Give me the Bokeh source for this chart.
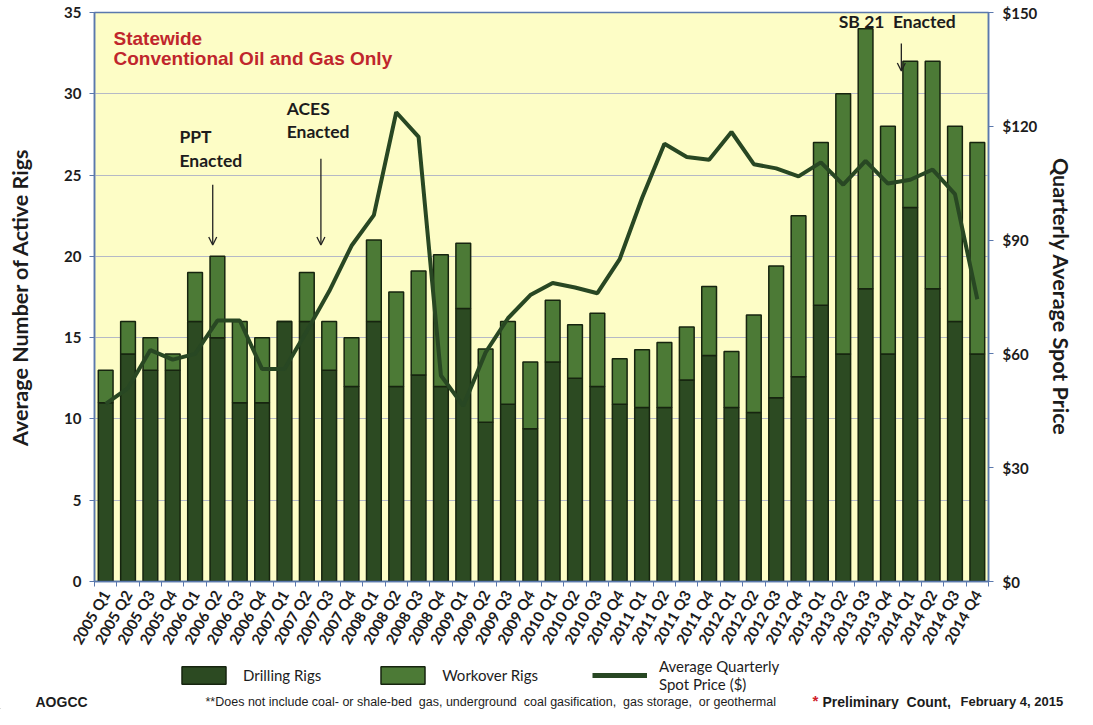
import math
from bokeh.plotting import figure
from bokeh.layouts import column
from bokeh.models import (ColumnDataSource, Range1d, LinearAxis, FixedTicker,
                          NumeralTickFormatter, Label, Arrow, OpenHead,
                          Legend, LegendItem)
from bokeh.embed import file_html
from bokeh.resources import INLINE

# ---------------- data ----------------
quarters = ["2005 Q1", "2005 Q2", "2005 Q3", "2005 Q4",
            "2006 Q1", "2006 Q2", "2006 Q3", "2006 Q4",
            "2007 Q1", "2007 Q2", "2007 Q3", "2007 Q4",
            "2008 Q1", "2008 Q2", "2008 Q3", "2008 Q4",
            "2009 Q1", "2009 Q2", "2009 Q3", "2009 Q4",
            "2010 Q1", "2010 Q2", "2010 Q3", "2010 Q4",
            "2011 Q1", "2011 Q2", "2011 Q3", "2011 Q4",
            "2012 Q1", "2012 Q2", "2012 Q3", "2012 Q4",
            "2013 Q1", "2013 Q2", "2013 Q3", "2013 Q4",
            "2014 Q1", "2014 Q2", "2014 Q3", "2014 Q4"]

drilling_rigs = [11, 14, 13, 13, 16, 15, 11, 11, 16, 16, 13, 12,
                 16, 12, 12.7, 12, 16.8, 9.8, 10.9, 9.4, 13.5, 12.5, 12, 10.9,
                 10.7, 10.7, 12.4, 13.9, 10.7, 10.4, 11.3, 12.6,
                 17, 14, 18, 14, 23, 18, 16, 14]

total_rigs = [13, 16, 15, 14, 19, 20, 16, 15, 16, 19, 16, 15,
              21, 17.8, 19.1, 20.1, 20.8, 14.3, 16, 13.5, 17.3, 15.8, 16.5, 13.7,
              14.25, 14.7, 15.65, 18.15, 14.15, 16.4, 19.4, 22.5,
              27, 30, 34, 28, 32, 32, 28, 27]

workover_rigs = [round(t - d, 2) for t, d in zip(total_rigs, drilling_rigs)]

spot_price = [46.8, 51, 61, 58.5, 60, 68.8, 68.8, 56,
              56, 66, 76.5, 88.5, 96.6, 123.7, 117.2, 54.3,
              46.3, 60.4, 69.4, 75.5, 78.7, 77.5, 76, 85,
              101.1, 115.4, 111.9, 111.2, 118.5, 110, 108.9, 106.8,
              110.5, 104.6, 110.9, 104.9, 105.9, 108.6, 102.1, 74.4]

rig_ticks = [0, 5, 10, 15, 20, 25, 30, 35]
price_ticks = [0, 30, 60, 90, 120, 150]

# ---------------- styles ----------------
DARK = "#2c4a22"
WORK = "#4c7a36"
LINE = "#284723"
OUT = "#16240f"
BG = "#fdfdc6"
AX = "#5a78ad"
TXT = "#1c1c1c"
FONT = "Lato"
NB = "\u00a0"

idx = list(range(len(quarters)))
src = ColumnDataSource(dict(x=idx, q=quarters, drilling=drilling_rigs,
                            workover=workover_rigs, price=spot_price))

p = figure(width=1077, height=654, output_backend="svg", toolbar_location=None,
           x_range=Range1d(-0.5, len(quarters) - 0.5), y_range=Range1d(0, 35),
           min_border_left=94, min_border_right=82, min_border_top=12,
           min_border_bottom=72, background_fill_color=BG,
           border_fill_color="white", outline_line_color=AX,
           outline_line_width=1.5)
p.frame_align = False
p.extra_y_ranges = {"price": Range1d(0, 150)}

bars = p.vbar_stack(["drilling", "workover"], x="x", width=0.66, source=src,
                    fill_color=[DARK, WORK], line_color=OUT, line_width=1.5)
ln = p.line(x="x", y="price", source=src, y_range_name="price",
            line_color=LINE, line_width=4)

# axes
p.xgrid.visible = False
p.ygrid.grid_line_color = "#b5b9c6"
p.ygrid.grid_line_width = 1
p.yaxis.ticker = FixedTicker(ticks=rig_ticks)

xa = p.xaxis[0]
xa.ticker = FixedTicker(ticks=idx, minor_ticks=[i - 0.5 for i in range(len(quarters) + 1)])
xa.major_label_overrides = {i: q for i, q in enumerate(quarters)}
xa.major_label_orientation = math.pi / 3
xa.major_tick_out = 0
xa.major_tick_in = 0
xa.minor_tick_out = 5
xa.minor_tick_in = 0
xa.minor_tick_line_color = AX
xa.axis_line_color = AX
xa.axis_line_width = 1.5
xa.major_label_text_font = FONT
xa.major_label_text_font_style = "bold"
xa.major_label_text_font_size = "15px"
xa.major_label_text_color = TXT
xa.major_label_standoff = 5

ya = p.yaxis[0]
ya.axis_label = "Average Number of Active Rigs"
ya.axis_label_text_font = FONT
ya.axis_label_text_font_style = "bold"
ya.axis_label_text_font_size = "21.5px"
ya.axis_label_text_color = TXT
ya.axis_label_standoff = 28
ya.major_label_text_font = FONT
ya.major_label_text_font_style = "bold"
ya.major_label_text_font_size = "15px"
ya.major_label_text_color = TXT
ya.major_label_standoff = 8
ya.major_tick_out = 5
ya.major_tick_in = 0
ya.minor_tick_line_color = None
ya.major_tick_line_color = AX
ya.axis_line_color = AX
ya.axis_line_width = 1.5

ra = LinearAxis(y_range_name="price", ticker=FixedTicker(ticks=price_ticks),
                formatter=NumeralTickFormatter(format="$0"))
ra.axis_label = "Quarterly Average Spot Price"
ra.axis_label_text_font = FONT
ra.axis_label_text_font_style = "bold"
ra.axis_label_text_font_size = "21.5px"
ra.axis_label_text_color = TXT
ra.axis_label_standoff = 8
ra.major_label_text_font = FONT
ra.major_label_text_font_style = "bold"
ra.major_label_text_font_size = "15px"
ra.major_label_text_color = TXT
ra.major_label_standoff = 9
ra.major_tick_out = 5
ra.major_tick_in = 0
ra.minor_tick_line_color = None
ra.major_tick_line_color = AX
ra.axis_line_color = AX
ra.axis_line_width = 1.5
p.add_layout(ra, "right")

# ---------------- annotations ----------------
def lab(fig, x, y, t, size="17.5px", color=TXT, font=FONT, style="bold",
        align="left", units="data"):
    fig.add_layout(Label(x=x, y=y, x_units=units, y_units=units, text=t,
                         text_font=font, text_font_style=style,
                         text_font_size=size, text_color=color,
                         text_align=align, text_baseline="middle"))

lab(p, 0.35, 33.4, "Statewide", size="19px", color="#c0262c",
    font="Liberation Sans")
lab(p, 0.35, 32.15, "Conventional Oil and Gas Only", size="19px",
    color="#c0262c", font="Liberation Sans")

lab(p, 3.3, 27.35, "PPT")
lab(p, 3.3, 25.9, "Enacted")
lab(p, 8.1, 29.1, "ACES")
lab(p, 8.1, 27.7, "Enacted")
lab(p, 32.8, 34.45, "SB" + NB + "21" + NB + NB + "Enacted")

for ax_, y0, y1 in [(4.79, 24.4, 20.7), (9.63, 26.0, 20.7), (35.6, 33.1, 31.4)]:
    p.add_layout(Arrow(x_start=ax_, y_start=y0, x_end=ax_, y_end=y1,
                       line_color="#222222", line_width=1.3,
                       end=OpenHead(size=8, line_color="#222222",
                                    line_width=1.3)))

# ---------------- legend + footer strip ----------------
p2 = figure(width=1077, height=55, output_backend="svg", toolbar_location=None,
            x_range=Range1d(0, 1), y_range=Range1d(0, 1),
            x_axis_type=None, y_axis_type=None,
            min_border_left=0, min_border_right=0, min_border_top=0,
            min_border_bottom=0, outline_line_color=None,
            background_fill_color="white", border_fill_color="white")
p2.frame_align = False
p2.grid.visible = False

# legend keys (styled like the chart's glyphs, kept outside the visible range)
k1 = p2.vbar(x=[-5], top=[-5], bottom=[-6], width=0.1, fill_color=DARK,
             line_color=OUT, line_width=1.5)
k2 = p2.vbar(x=[-5], top=[-5], bottom=[-6], width=0.1, fill_color=WORK,
             line_color=OUT, line_width=1.5)
k3 = p2.line(x=[-6, -5], y=[-5, -5], line_color=LINE, line_width=5)

legend = Legend(items=[LegendItem(label="Drilling Rigs", renderers=[k1]),
                       LegendItem(label="Workover Rigs", renderers=[k2]),
                       LegendItem(label="Average Quarterly\nSpot Price ($)",
                                  renderers=[k3])],
                orientation="horizontal", location=(176, 16),
                glyph_width=55, glyph_height=22, label_standoff=12,
                spacing=54, padding=0, margin=0,
                label_text_font=FONT, label_text_font_size="15px",
                label_text_color=TXT, border_line_color=None,
                background_fill_alpha=0)
p2.add_layout(legend, "center")

lab(p2, 35, 8, "AOGCC", size="14px", font="Liberation Sans", units="screen")
lab(p2, 205, 8, "**Does not include coal- or shale-bed" + NB + " gas, underground" + NB +
    " coal gasification," + NB + " gas storage," + NB + " or geothermal",
    size="12.5px", font="Liberation Sans", style="normal", units="screen")
lab(p2, 812, 9, "*", size="15px", font="Liberation Sans", color="#d0202a",
    units="screen")
lab(p2, 822, 8, "Preliminary" + NB + " Count,", size="14px",
    font="Liberation Sans", units="screen")
lab(p2, 960, 8, "February 4, 2015", size="13px", font="Liberation Sans",
    units="screen")

open("out.html", "w").write(file_html(column(p, p2, spacing=0), INLINE))
